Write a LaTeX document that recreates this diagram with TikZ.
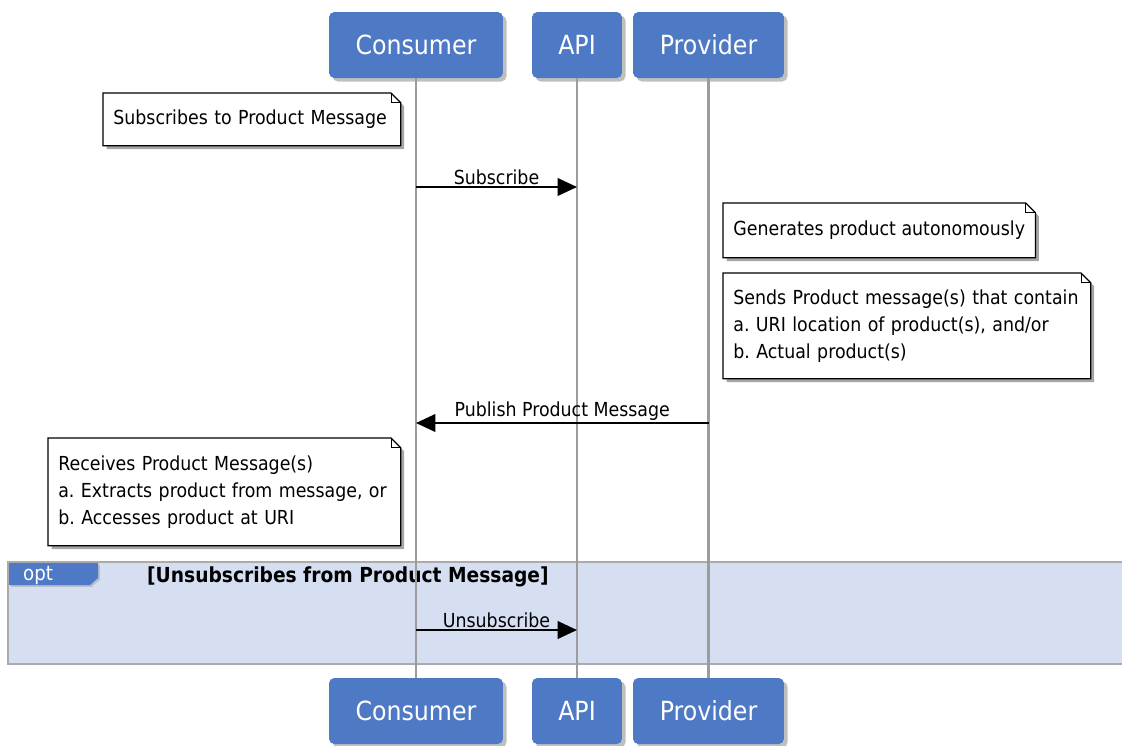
\documentclass[tikz,border=0pt]{standalone}
\usepackage{fontspec}
\setmainfont{DejaVu Sans Condensed}
\usetikzlibrary{arrows.meta,positioning,shadows}
\definecolor{partblue}{HTML}{4E79C4}
\definecolor{optfill}{HTML}{D6DFF2}
\definecolor{frameline}{HTML}{ABABAB}
\definecolor{lifeline}{HTML}{9C9C9C}
\frenchspacing

\begin{document}
\begin{tikzpicture}[
    x=0.02cm, y=-0.02cm,
    part/.style={fill=partblue, rounded corners=3pt, text=white,
                 font=\fontsize{15}{18}\selectfont, minimum height=1.32cm,
                 drop shadow={shadow xshift=2pt, shadow yshift=-2pt, opacity=.5}},
    note/.style={anchor=north west, align=left, inner xsep=0.2cm,
                 font=\fontsize{11}{15.3}\selectfont,
                 append after command={\pgfextra{
                   \draw[line width=0.7pt, fill=white,
                         drop shadow={shadow xshift=2pt, shadow yshift=-2pt, opacity=.7}]
                     (\tikzlastnode.north west) -- ([xshift=-5.5pt]\tikzlastnode.north east)
                     -- ([yshift=-5.5pt]\tikzlastnode.north east) -- (\tikzlastnode.south east)
                     -- (\tikzlastnode.south west) -- cycle;
                   \draw[line width=0.5pt] ([xshift=-5.5pt]\tikzlastnode.north east) |- ([yshift=-5.5pt]\tikzlastnode.north east);}}},
    msg/.style={-{Triangle[length=11pt, width=10pt]}, line width=1.1pt},
    lbl/.style={font=\fontsize{11}{13}\selectfont, inner sep=0.6pt},
    life/.style={draw=lifeline, line width=1.2pt}
]
\useasboundingbox (0,0) rectangle (1122,745);

% opt frame
\node[fill=optfill, draw=frameline, line width=1pt, anchor=north west,
      minimum width=22.4cm, minimum height=2.04cm, inner sep=0pt] (opt) at (7,561) {};
\path[fill=partblue, drop shadow={shadow xshift=1pt, shadow yshift=-1pt, opacity=.35}]
    ([shift={(2,2)}]opt.north west) -- ++(89,0) -- ++(0,15) -- ++(-8,7) -- ++(-81,0) -- cycle;
\node[text=white, font=\fontsize{11.5}{13}\selectfont, anchor=west] (opttag) at (17,575) {opt};
\node[font=\fontsize{11.8}{13}\bfseries\selectfont, anchor=west] (optguard) at (141,577)
    {[Unsubscribes from Product Message]};

% participants
\node[part, minimum width=3.48cm] (cons) at (416,45) {Consumer};
\node[part, minimum width=1.80cm] (api) at (577,45) {API};
\node[part, minimum width=3.02cm] (prov) at (708.5,45) {Provider};
\node[part, minimum width=3.48cm] (consB) at (416,711) {Consumer};
\node[part, minimum width=1.80cm] (apiB) at (577,711) {API};
\node[part, minimum width=3.02cm] (provB) at (708.5,711) {Provider};

\draw[life] (cons) -- (consB);
\draw[life] (api) -- (apiB);
\draw[life] (prov) -- (provB);

% notes
\node[note, text width=5.54cm, minimum height=1.04cm] (subnote) at (103,93)
    {Subscribes to Product Message};
\node[note, minimum width=6.2cm, minimum height=1.08cm] (gennote) at (723,203)
    {Generates product autonomously};
\node[note, text width=6.94cm, minimum height=2.10cm] (sendnote) at (723,273)
    {Sends Product message(s) that contain\\a. URI location of product(s), and/or\\b. Actual product(s)};
\node[note, text width=6.64cm, minimum height=2.14cm] (recvnote) at (48,438)
    {Receives Product Message(s)\\a. Extracts product from message, or\\b. Accesses product at URI};

% messages
\coordinate (subA) at (416,187);
\coordinate (subB) at (577,187);
\coordinate (pubA) at (708.5,423);
\coordinate (pubB) at (416,423);
\coordinate (unsA) at (416,630);
\coordinate (unsB) at (577,630);
\draw[msg] (subA) -- node[above, lbl] {Subscribe} (subB);
\draw[msg] (pubA) -- node[above, lbl] {Publish Product Message} (pubB);
\draw[msg] (unsA) -- node[above, lbl] {Unsubscribe} (unsB);
\end{tikzpicture}
\end{document}
